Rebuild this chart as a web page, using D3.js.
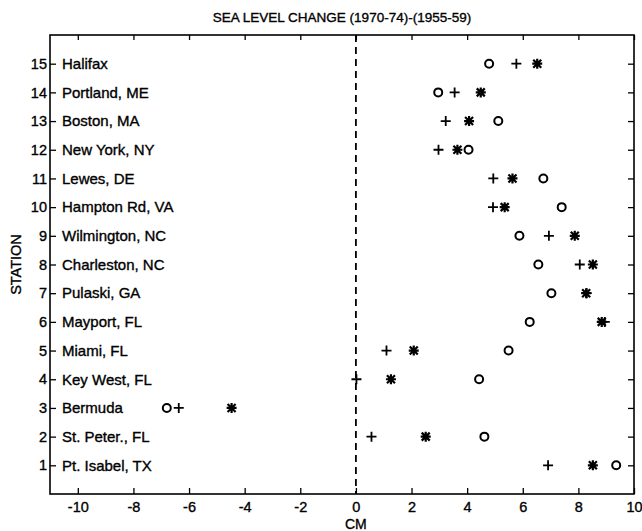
<!DOCTYPE html>
<html>
<head>
<meta charset="utf-8">
<script src="https://cdn.jsdelivr.net/npm/d3@7"></script>
<style>
  body { margin: 0; background: #fff; }
  svg text { font-family: "Liberation Sans", Arial, sans-serif; fill: #000; stroke: #000; stroke-width: 0.35px; }
</style>
</head>
<body>
<div id="chart"></div>
<script>
// station names, index = station number (1..15)
const stations = ["Pt. Isabel, TX", "St. Peter., FL", "Bermuda", "Key West, FL", "Miami, FL",
    "Mayport, FL", "Pulaski, GA", "Charleston, NC", "Wilmington, NC", "Hampton Rd, VA",
    "Lewes, DE", "New York, NY", "Boston, MA", "Portland, ME", "Halifax"];

// three estimates per station (cm)
const circleVals = [9.36, 4.62, -6.80, 4.43, 5.49, 6.25, 7.03, 6.56, 5.88, 7.40, 6.74, 4.05, 5.12, 2.96, 4.79];
const plusVals   = [6.91, 0.56, -6.37, 0.02, 1.10, 8.95, 8.30, 8.05, 6.94, 4.93, 4.94, 2.97, 3.23, 3.55, 5.77];
const starVals   = [8.52, 2.51, -4.47, 1.26, 2.08, 8.84, 8.28, 8.52, 7.87, 5.35, 5.63, 3.65, 4.07, 4.49, 6.52];

const xTicks = [-10, -8, -6, -4, -2, 0, 2, 4, 6, 8, 10];
const yTicks = d3.range(1, 16);

const width = 642, height = 531;
const margin = {top: 35, right: 8, bottom: 37, left: 50};

const svg = d3.select("#chart").append("svg")
    .attr("width", width)
    .attr("height", height);

const x = d3.scaleLinear().domain([-11, 10]).range([margin.left, width - margin.right]);
const y = d3.scaleLinear().domain([0, 16]).range([height - margin.bottom, margin.top]);

// title
svg.append("text")
    .attr("x", (margin.left + width - margin.right) / 2)
    .attr("y", 21.5)
    .attr("text-anchor", "middle")
    .style("font-size", "13.5px")
    .text("SEA LEVEL CHANGE (1970-74)-(1955-59)");

// axes, ticks pointing inward
const tickStyle = g => {
    g.select(".domain").remove();
    g.selectAll("line").attr("stroke", "#000").attr("stroke-width", 1.3);
    g.selectAll("text").style("font-size", "14.5px");
};

svg.append("g")
    .attr("transform", `translate(0,${y(0)})`)
    .call(d3.axisBottom(x).tickValues(xTicks).tickSizeInner(-6).tickSizeOuter(0).tickPadding(8)
        .tickFormat(d => String(d)))
    .call(tickStyle);

svg.append("g")
    .attr("transform", `translate(0,${y(16)})`)
    .call(d3.axisTop(x).tickValues(xTicks).tickSizeInner(-5).tickSizeOuter(0).tickFormat(""))
    .call(tickStyle);

svg.append("g")
    .attr("transform", `translate(${x(-11)},0)`)
    .call(d3.axisLeft(y).tickValues(yTicks).tickSizeInner(-6).tickSizeOuter(0).tickPadding(3))
    .call(tickStyle);

svg.append("g")
    .attr("transform", `translate(${x(10)},0)`)
    .call(d3.axisRight(y).tickValues(yTicks).tickSizeInner(-6).tickSizeOuter(0).tickFormat(""))
    .call(tickStyle);

// frame
svg.append("rect")
    .attr("x", x(-11))
    .attr("y", y(16))
    .attr("width", x(10) - x(-11))
    .attr("height", y(0) - y(16))
    .attr("fill", "none")
    .attr("stroke", "#000")
    .attr("stroke-width", 1.6);

// zero line
svg.append("line")
    .attr("x1", x(0)).attr("x2", x(0))
    .attr("y1", y(16)).attr("y2", y(0))
    .attr("stroke", "#000")
    .attr("stroke-width", 1.8)
    .attr("stroke-dasharray", "7,5");

// station names
svg.append("g").selectAll("text")
    .data(stations)
    .join("text")
    .attr("x", x(-11) + 12)
    .attr("y", (d, i) => y(i + 1))
    .attr("dy", "0.35em")
    .style("font-size", "15px")
    .text(d => d);

// axis labels
svg.append("text")
    .attr("transform", `translate(21,${(y(0) + y(16)) / 2}) rotate(-90)`)
    .attr("text-anchor", "middle")
    .style("font-size", "14.5px")
    .text("STATION");

svg.append("text")
    .attr("x", x(0))
    .attr("y", 529)
    .attr("text-anchor", "middle")
    .style("font-size", "14px")
    .text("CM");

// markers
const marks = svg.append("g");

marks.selectAll(".circ")
    .data(circleVals)
    .join("circle")
    .attr("class", "circ")
    .attr("cx", d => x(d))
    .attr("cy", (d, i) => y(i + 1))
    .attr("r", 4)
    .attr("fill", "none")
    .attr("stroke", "#000")
    .attr("stroke-width", 2);

marks.selectAll(".plus")
    .data(plusVals)
    .join("path")
    .attr("class", "plus")
    .attr("transform", (d, i) => `translate(${x(d)},${y(i + 1)})`)
    .attr("d", "M-5,0H5M0,-5V5")
    .attr("stroke", "#000")
    .attr("stroke-width", 1.8);

marks.selectAll(".star")
    .data(starVals)
    .join("path")
    .attr("class", "star")
    .attr("transform", (d, i) => `translate(${x(d)},${y(i + 1)})`)
    .attr("d", "M-5,0H5M0,-5V5M-4,-4L4,4M-4,4L4,-4")
    .attr("stroke", "#000")
    .attr("stroke-width", 2.2);
</script>
</body>
</html>
